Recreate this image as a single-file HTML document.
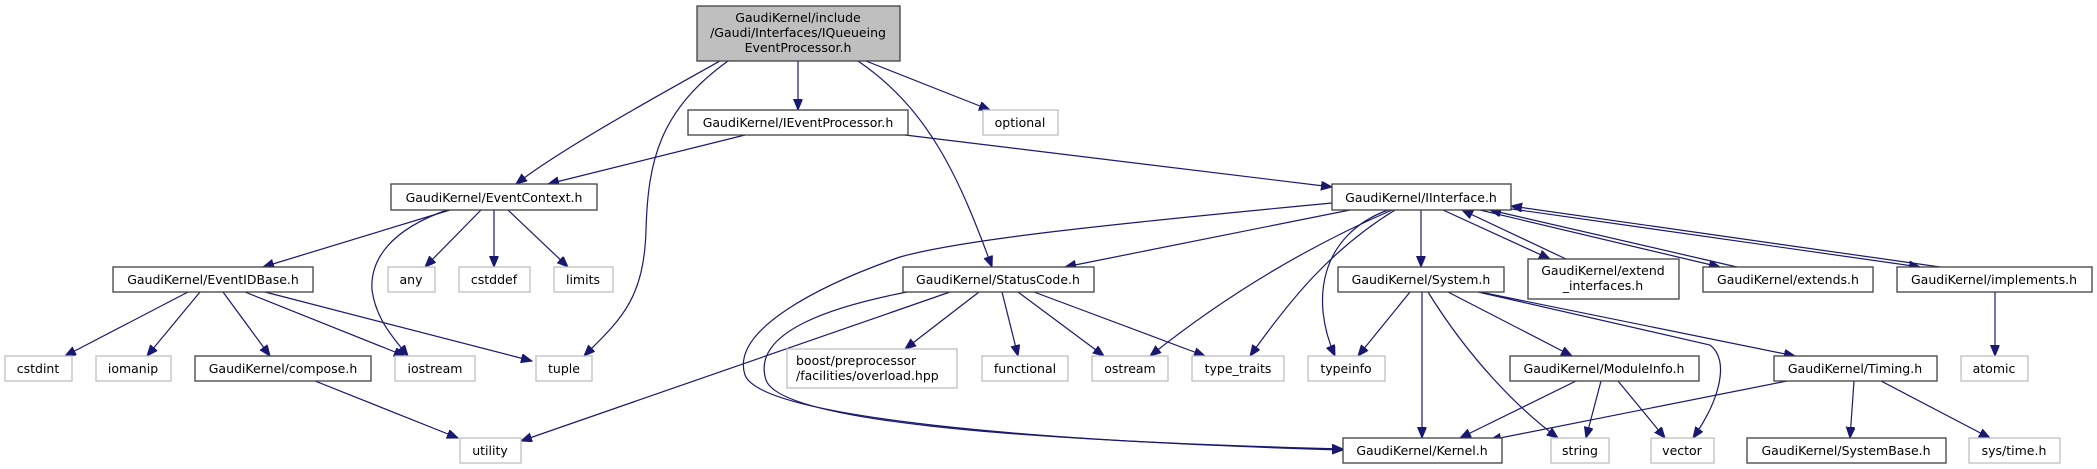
<!DOCTYPE html>
<html><head><meta charset="utf-8"><style>
html,body{margin:0;padding:0;background:#fff;}
svg{display:block;}
text{font-family:"DejaVu Sans","Liberation Sans",sans-serif;font-size:12.5px;fill:#000;}
.n{fill:#fff;stroke:#404040;stroke-width:1.3;}
.g{fill:#fff;stroke:#bfbfbf;stroke-width:1.3;}
.e{fill:none;stroke:#191970;stroke-width:1.2;marker-end:url(#a);}
</style></head><body>
<svg width="2097" height="469" viewBox="0 0 2097 469" xmlns="http://www.w3.org/2000/svg">
<defs><marker id="a" markerUnits="userSpaceOnUse" markerWidth="12" markerHeight="10" refX="11" refY="4.5" orient="auto"><path d="M0,0 L11,4.5 L0,9 z" fill="#191970" stroke="#191970"/></marker></defs>
<!-- edges -->
<path class="e" d="M720,61 C650,100 560,150 516,184"/>
<path class="e" d="M728,61 C660,110 648,160 646,230 C644,300 620,320 584,356"/>
<path class="e" d="M798,61 L798,110"/>
<path class="e" d="M858,61 C930,110 960,180 992,267"/>
<path class="e" d="M866,61 L990,110"/>
<path class="e" d="M745,135 L548,184"/>
<path class="e" d="M905,135 L1332,187"/>
<path class="e" d="M450,210 L263,267"/>
<path class="e" d="M447,210 C390,230 370,260 372,290 C376,320 395,340 408,356"/>
<path class="e" d="M481,210 L425,267"/>
<path class="e" d="M494,210 L494,267"/>
<path class="e" d="M508,210 L568,267"/>
<path class="e" d="M188,292 L65,356"/>
<path class="e" d="M200,292 L147,356"/>
<path class="e" d="M223,292 L270,356"/>
<path class="e" d="M245,292 L405,356"/>
<path class="e" d="M265,292 L532,361"/>
<path class="e" d="M315,381 L458,438"/>
<path class="e" d="M950,292 L521,441"/>
<path class="e" d="M907,292 C840,305 750,330 766,380 C780,420 1000,440 1343,449"/>
<path class="e" d="M1332,203 C1100,225 960,240 900,257 C820,285 730,330 745,375 C760,415 1000,440 1343,450"/>
<path class="e" d="M979,292 L905,349"/>
<path class="e" d="M1002,292 L1018,356"/>
<path class="e" d="M1018,292 L1104,356"/>
<path class="e" d="M1034,292 L1205,356"/>
<path class="e" d="M1350,210 L1065,267"/>
<path class="e" d="M1392,210 C1300,250 1220,300 1150,356"/>
<path class="e" d="M1395,210 C1330,250 1290,300 1250,356"/>
<path class="e" d="M1388,210 C1320,235 1310,300 1335,356"/>
<path class="e" d="M1421,210 L1421,267"/>
<path class="e" d="M1443,210 L1550,259"/>
<path class="e" d="M1566,259 L1462,210"/>
<path class="e" d="M1480,210 L1720,267"/>
<path class="e" d="M1737,267 L1490,210"/>
<path class="e" d="M1505,208 L1920,267"/>
<path class="e" d="M1940,267 L1511,206"/>
<path class="e" d="M1410,292 L1358,356"/>
<path class="e" d="M1422,292 L1422,438"/>
<path class="e" d="M1428,292 C1470,360 1520,410 1558,438"/>
<path class="e" d="M1448,292 L1572,356"/>
<path class="e" d="M1480,292 L1795,356"/>
<path class="e" d="M1478,292 L1710,345 C1730,360 1720,400 1693,438"/>
<path class="e" d="M1576,381 L1460,438"/>
<path class="e" d="M1601,381 L1586,438"/>
<path class="e" d="M1618,381 L1665,438"/>
<path class="e" d="M1787,381 L1490,440"/>
<path class="e" d="M1854,381 L1850,438"/>
<path class="e" d="M1881,381 L1990,438"/>
<path class="e" d="M1995,292 L1995,356"/>
<!-- nodes -->
<rect x="697" y="6" width="203" height="55" fill="#bfbfbf" stroke="#404040" stroke-width="1.3"/>
<text x="798" y="22" text-anchor="middle">GaudiKernel/include</text>
<text x="798" y="37" text-anchor="middle">/Gaudi/Interfaces/IQueueing</text>
<text x="798" y="52" text-anchor="middle">EventProcessor.h</text>
<rect class="n" x="688" y="110" width="220" height="25"/><text x="798" y="127" text-anchor="middle">GaudiKernel/IEventProcessor.h</text>
<rect class="g" x="983" y="110" width="75" height="25"/><text x="1020" y="127" text-anchor="middle">optional</text>
<rect class="n" x="391" y="184" width="206" height="26"/><text x="494" y="202" text-anchor="middle">GaudiKernel/EventContext.h</text>
<rect class="n" x="1332" y="184" width="179" height="26"/><text x="1421" y="202" text-anchor="middle">GaudiKernel/IInterface.h</text>
<rect class="n" x="113" y="267" width="200" height="25"/><text x="213" y="284" text-anchor="middle">GaudiKernel/EventIDBase.h</text>
<rect class="g" x="388" y="267" width="47" height="25"/><text x="411" y="284" text-anchor="middle">any</text>
<rect class="g" x="459" y="267" width="71" height="25"/><text x="494" y="284" text-anchor="middle">cstddef</text>
<rect class="g" x="554" y="267" width="59" height="25"/><text x="583" y="284" text-anchor="middle">limits</text>
<rect class="n" x="903" y="267" width="191" height="25"/><text x="998" y="284" text-anchor="middle">GaudiKernel/StatusCode.h</text>
<rect class="n" x="1338" y="267" width="166" height="25"/><text x="1421" y="284" text-anchor="middle">GaudiKernel/System.h</text>
<rect class="n" x="1528" y="259" width="151" height="40"/><text x="1603" y="275" text-anchor="middle">GaudiKernel/extend</text><text x="1603" y="290" text-anchor="middle">_interfaces.h</text>
<rect class="n" x="1703" y="267" width="170" height="25"/><text x="1788" y="284" text-anchor="middle">GaudiKernel/extends.h</text>
<rect class="n" x="1897" y="267" width="195" height="25"/><text x="1994" y="284" text-anchor="middle">GaudiKernel/implements.h</text>
<rect class="g" x="5" y="356" width="67" height="25"/><text x="38" y="373" text-anchor="middle">cstdint</text>
<rect class="g" x="96" y="356" width="75" height="25"/><text x="133" y="373" text-anchor="middle">iomanip</text>
<rect class="n" x="195" y="356" width="176" height="25"/><text x="283" y="373" text-anchor="middle">GaudiKernel/compose.h</text>
<rect class="g" x="395" y="356" width="80" height="25"/><text x="435" y="373" text-anchor="middle">iostream</text>
<rect class="g" x="536" y="356" width="56" height="25"/><text x="564" y="373" text-anchor="middle">tuple</text>
<rect class="g" x="787" y="349" width="170" height="39"/><text x="796" y="365">boost/preprocessor</text><text x="796" y="380">/facilities/overload.hpp</text>
<rect class="g" x="982" y="356" width="86" height="25"/><text x="1025" y="373" text-anchor="middle">functional</text>
<rect class="g" x="1092" y="356" width="76" height="25"/><text x="1130" y="373" text-anchor="middle">ostream</text>
<rect class="g" x="1192" y="356" width="92" height="25"/><text x="1238" y="373" text-anchor="middle">type_traits</text>
<rect class="g" x="1308" y="356" width="77" height="25"/><text x="1346" y="373" text-anchor="middle">typeinfo</text>
<rect class="n" x="1510" y="356" width="189" height="25"/><text x="1604" y="373" text-anchor="middle">GaudiKernel/ModuleInfo.h</text>
<rect class="n" x="1774" y="356" width="163" height="25"/><text x="1855" y="373" text-anchor="middle">GaudiKernel/Timing.h</text>
<rect class="g" x="1961" y="356" width="67" height="25"/><text x="1994" y="373" text-anchor="middle">atomic</text>
<rect class="g" x="460" y="438" width="61" height="25"/><text x="490" y="455" text-anchor="middle">utility</text>
<rect class="n" x="1343" y="438" width="159" height="25"/><text x="1422" y="455" text-anchor="middle">GaudiKernel/Kernel.h</text>
<rect class="g" x="1551" y="438" width="58" height="25"/><text x="1580" y="455" text-anchor="middle">string</text>
<rect class="g" x="1651" y="438" width="63" height="25"/><text x="1682" y="455" text-anchor="middle">vector</text>
<rect class="n" x="1747" y="438" width="199" height="25"/><text x="1846" y="455" text-anchor="middle">GaudiKernel/SystemBase.h</text>
<rect class="g" x="1969" y="438" width="91" height="25"/><text x="2014" y="455" text-anchor="middle">sys/time.h</text>
</svg>
</body></html>
